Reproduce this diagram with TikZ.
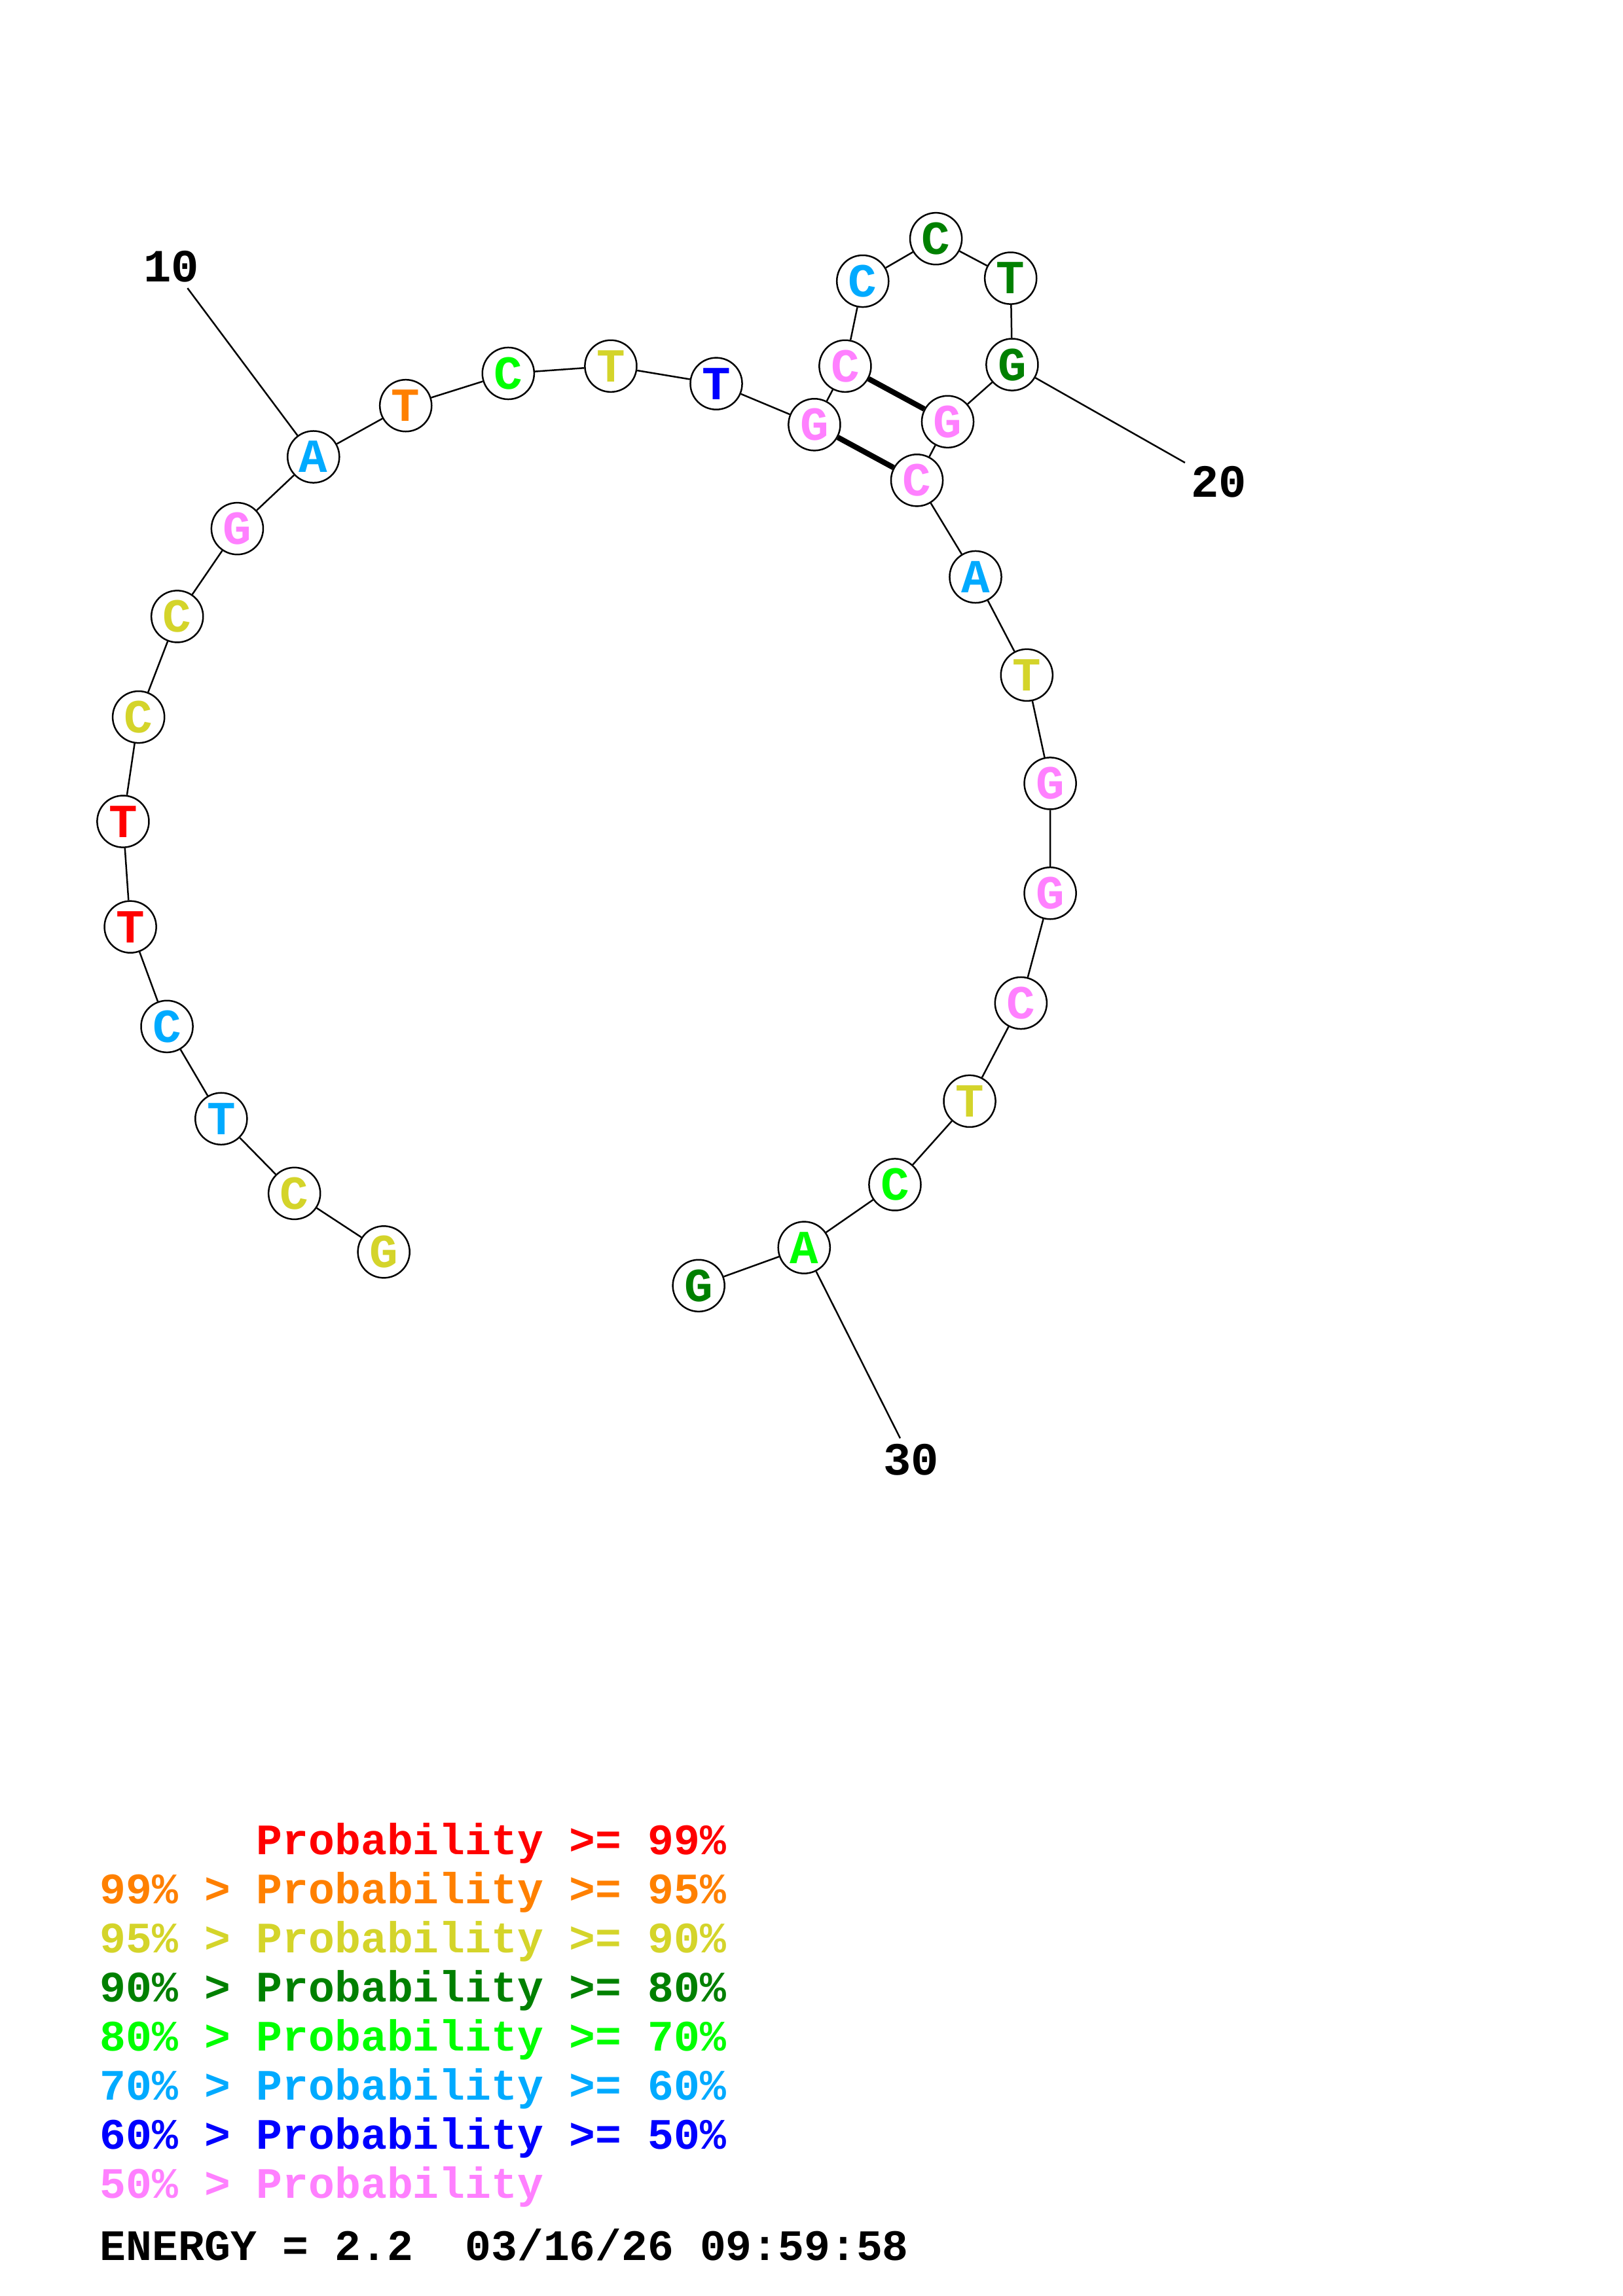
\documentclass[tikz,border=0pt]{standalone}
\usepackage{fontspec}
\setmonofont{Liberation Mono}
\usetikzlibrary{positioning}
\definecolor{pr99}{HTML}{FF0000}
\definecolor{pr95}{HTML}{FF8000}
\definecolor{pr90}{HTML}{D4D42A}
\definecolor{pr80}{HTML}{008000}
\definecolor{pr70}{HTML}{00FF00}
\definecolor{pr60}{HTML}{00AAFF}
\definecolor{pr50}{HTML}{0000FF}
\definecolor{prlow}{HTML}{FF80FF}

\begin{document}
\begin{tikzpicture}[x=0.018946cm,y=-0.018946cm]
\tikzstyle{every node}+=[inner sep=0pt]
\tikzstyle{base}=[circle,draw=black,line width=0.6pt,fill=white,minimum size=0.67cm,font=\ttfamily\bfseries\fontsize{17.5}{17.5}\selectfont]
\tikzstyle{seqnum}=[inner sep=2pt,font=\ttfamily\bfseries\fontsize{17}{17}\selectfont]
\tikzstyle{key}=[anchor=base west,font=\ttfamily\bfseries\fontsize{16}{16}\selectfont]
\useasboundingbox (0,0) rectangle (1108,1568);
% bases
\node [base,text=pr90] (n1) at (262,855) {G};
\node [base,text=pr90] (n2) at (201,815) {C};
\node [base,text=pr60] (n3) at (151,764) {T};
\node [base,text=pr60] (n4) at (114,701) {C};
\node [base,text=pr99] (n5) at (89,633) {T};
\node [base,text=pr99] (n6) at (84,561) {T};
\node [base,text=pr90] (n7) at (94.6,489.7) {C};
\node [base,text=pr90] (n8) at (121,421) {C};
\node [base,text=prlow] (n9) at (162,361) {G};
\node [base,text=pr60] (n10) at (214,312) {A};
\node [base,text=pr95] (n11) at (277,277) {T};
\node [base,text=pr70] (n12) at (347,255) {C};
\node [base,text=pr90] (n13) at (417,250) {T};
\node [base,text=pr50] (n14) at (489,262) {T};
\node [base,text=prlow] (n15) at (556,290) {G};
\node [base,text=prlow] (n16) at (577,250) {C};
\node [base,text=pr60] (n17) at (589,192) {C};
\node [base,text=pr80] (n18) at (639,163) {C};
\node [base,text=pr80] (n19) at (690,190) {T};
\node [base,text=pr80] (n20) at (691,249) {G};
\node [base,text=prlow] (n21) at (647,288) {G};
\node [base,text=prlow] (n22) at (626,328) {C};
\node [base,text=pr60] (n23) at (666,394) {A};
\node [base,text=pr90] (n24) at (701,461) {T};
\node [base,text=prlow] (n25) at (717,535) {G};
\node [base,text=prlow] (n26) at (717,610) {G};
\node [base,text=prlow] (n27) at (697,685) {C};
\node [base,text=pr90] (n28) at (662,752) {T};
\node [base,text=pr70] (n29) at (611,809) {C};
\node [base,text=pr70] (n30) at (549,852) {A};
\node [base,text=pr80] (n31) at (477,878) {G};
% backbone and pairs
\draw [black,line width=0.6pt] (n1) -- (n2) -- (n3) -- (n4) -- (n5) -- (n6) -- (n7) -- (n8)
  -- (n9) -- (n10) -- (n11) -- (n12) -- (n13) -- (n14) -- (n15) -- (n16) -- (n17) -- (n18)
  -- (n19) -- (n20) -- (n21) -- (n22) -- (n23) -- (n24) -- (n25) -- (n26) -- (n27) -- (n28)
  -- (n29) -- (n30) -- (n31);
\draw [black,line width=2pt] (n16) -- (n21);
\draw [black,line width=2pt] (n15) -- (n22);
% numbering
\node [seqnum] (lab10) at (117,182) {10};
\node [seqnum] (lab20) at (832,329) {20};
\node [seqnum] (lab30) at (622,997) {30};
\draw [black,line width=0.6pt] (n10) -- (lab10);
\draw [black,line width=0.6pt] (n20) -- (lab20);
\draw [black,line width=0.6pt] (n30) -- (lab30);
% legend
\node [key,text=pr99] (key99) at (68,1266.5) {\phantom{99\% > }Probability >= 99\%};
\node [key,text=pr95] (key95) at (68,1300) {99\% > Probability >= 95\%};
\node [key,text=pr90] (key90) at (68,1333.5) {95\% > Probability >= 90\%};
\node [key,text=pr80] (key80) at (68,1367) {90\% > Probability >= 80\%};
\node [key,text=pr70] (key70) at (68,1400.5) {80\% > Probability >= 70\%};
\node [key,text=pr60] (key60) at (68,1434) {70\% > Probability >= 60\%};
\node [key,text=pr50] (key50) at (68,1467.5) {60\% > Probability >= 50\%};
\node [key,text=prlow] (keylow) at (68,1501) {50\% > Probability};
\node [key] (energy) at (68,1543.8) {ENERGY = 2.2~~03/16/26 09:59:58};
\end{tikzpicture}
\end{document}
